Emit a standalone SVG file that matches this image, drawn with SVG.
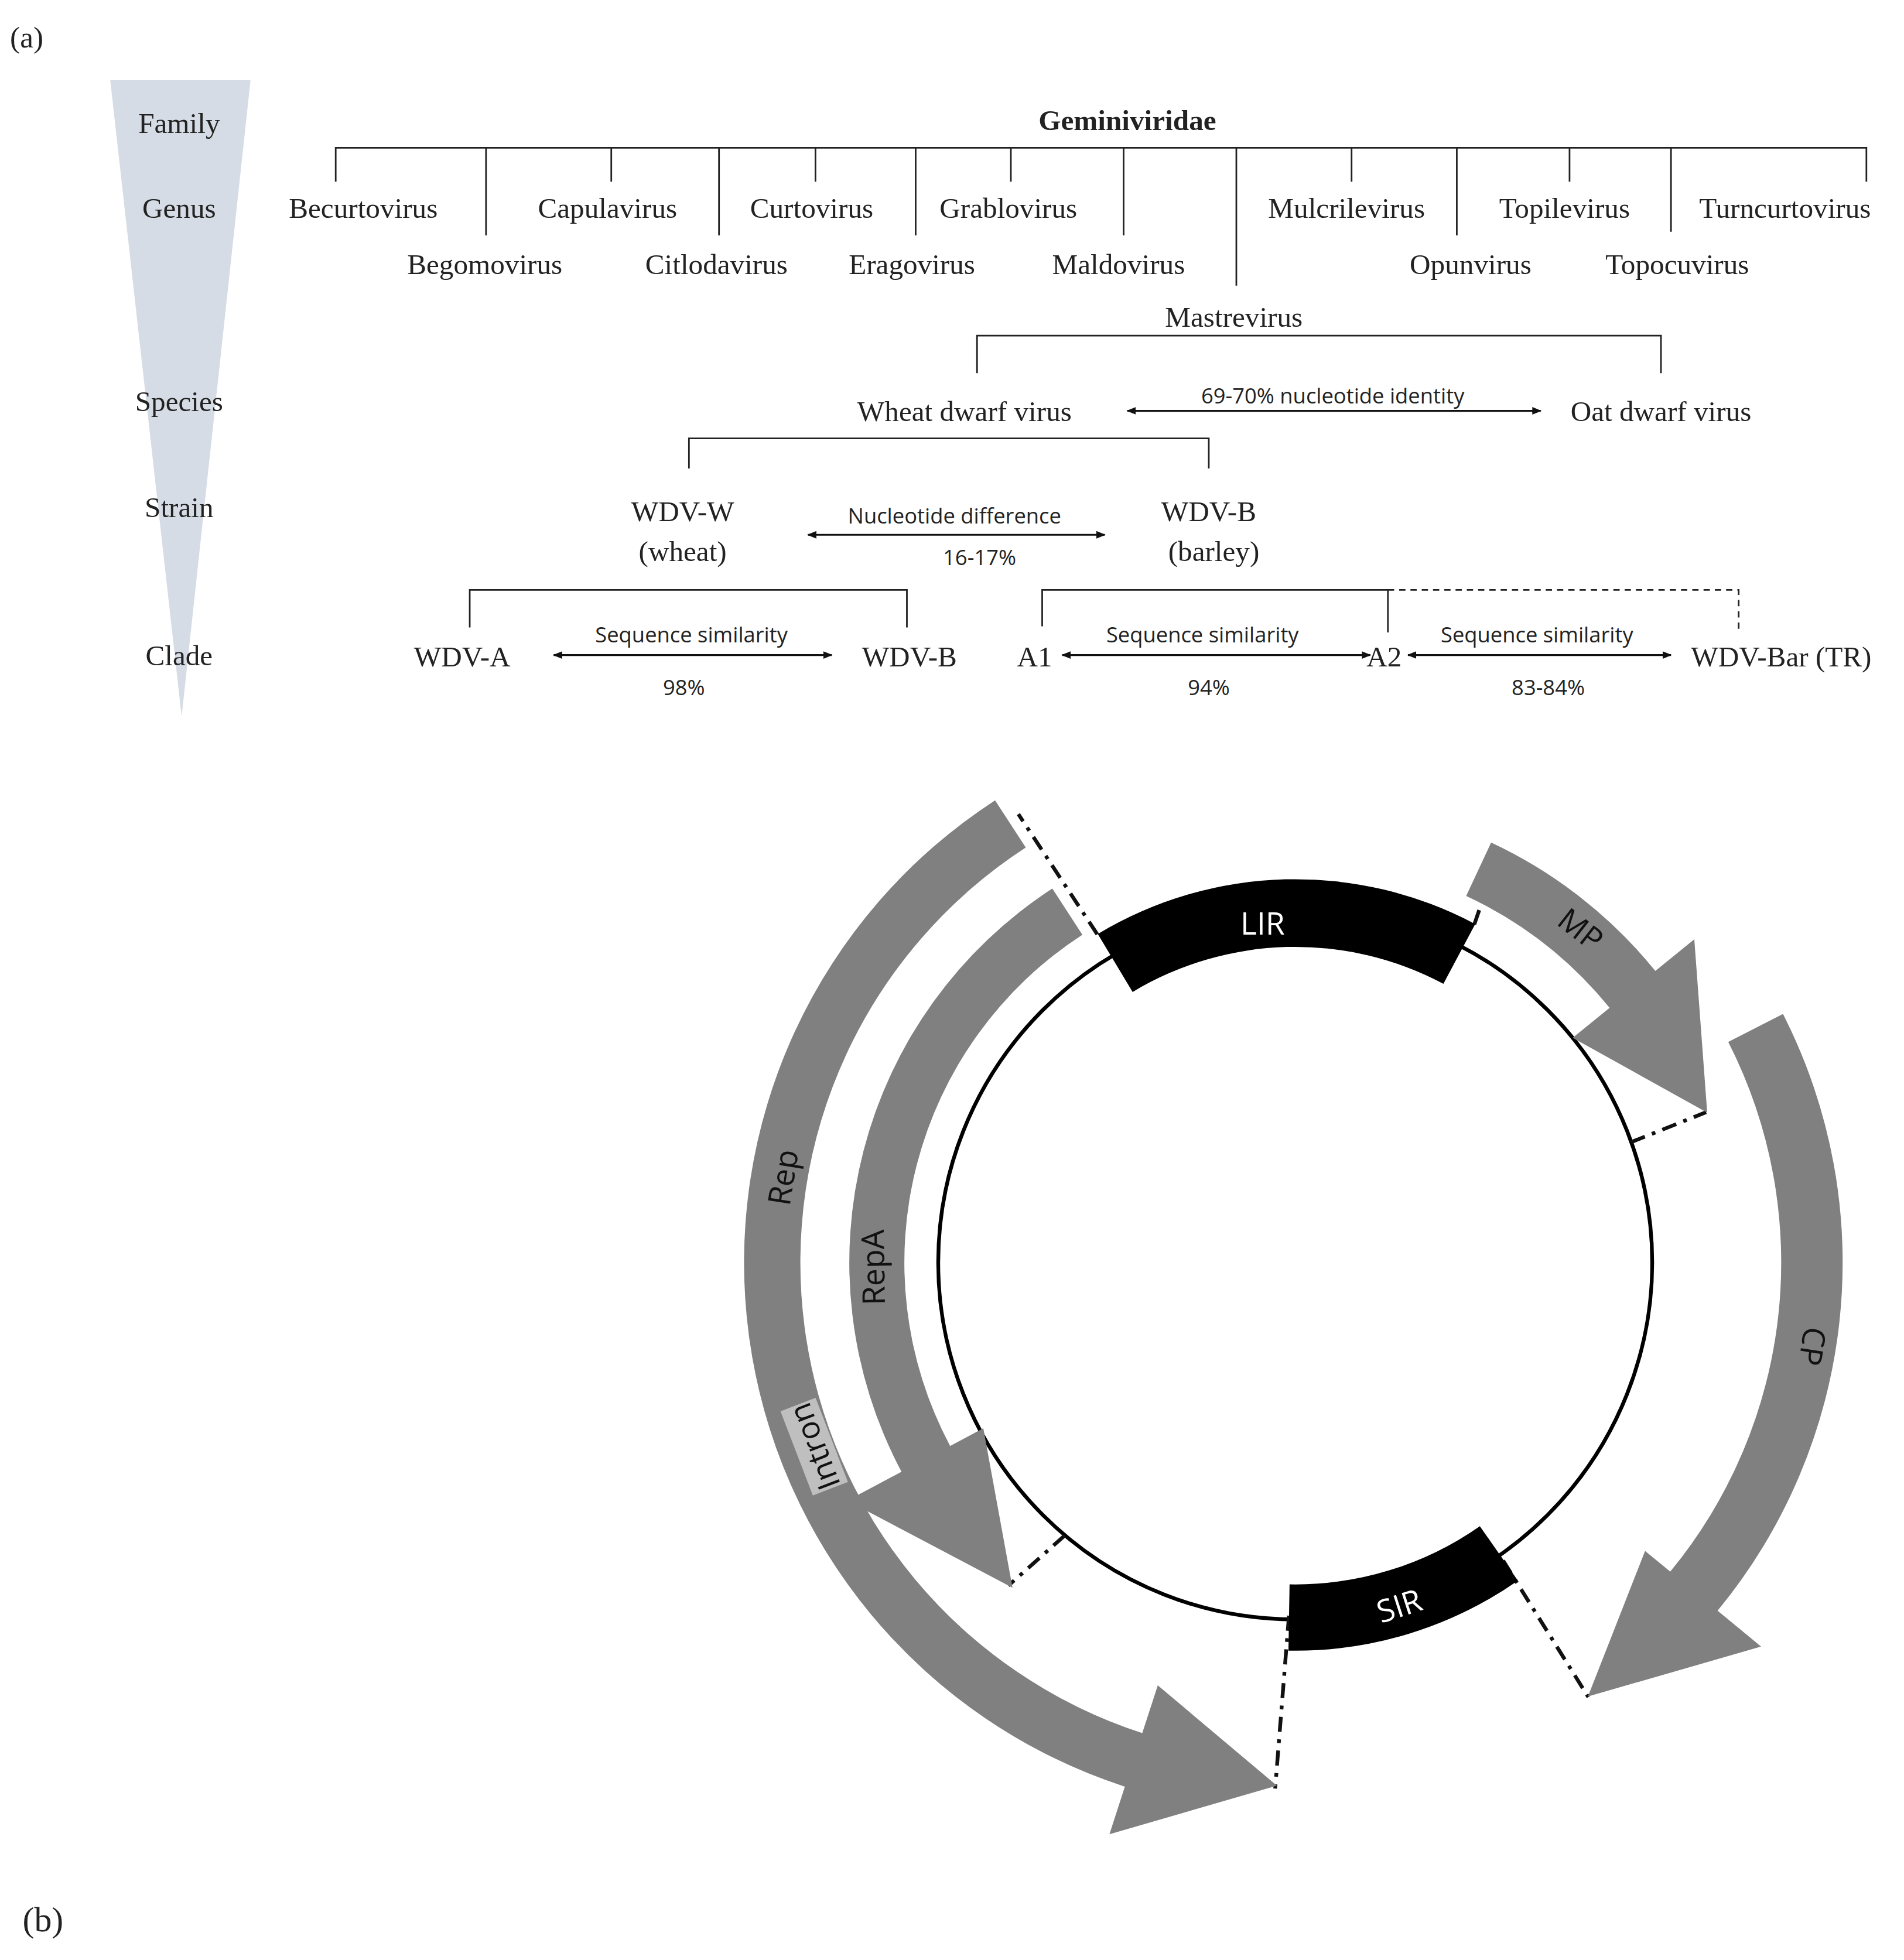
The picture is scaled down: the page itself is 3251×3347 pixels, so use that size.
<svg xmlns="http://www.w3.org/2000/svg" width="3251" height="3347" viewBox="0 0 3251 3347">
<style>
.s{font-family:"Liberation Serif",serif;font-size:23px;fill:#222;text-anchor:middle}
.n{font-family:"Open Sans","Liberation Sans",sans-serif;font-size:17px;fill:#222;text-anchor:middle}
.g{font-family:"Open Sans","Liberation Sans",sans-serif;font-size:25px;fill:#111;text-anchor:middle}
.ln{stroke:#222;stroke-width:1.3;fill:none}
.ar{stroke:#111;stroke-width:1.5;fill:none;marker-start:url(#ah);marker-end:url(#ah)}
.gene{fill:#808080}
.dd{stroke:#111;stroke-width:3;fill:none;stroke-dasharray:12 6 3 6}
</style>
<defs>
<marker id="ah" viewBox="0 0 10 10" refX="9" refY="5" markerWidth="5" markerHeight="5" orient="auto-start-reverse"><path d="M0,1 L10,5 L0,9 Z" fill="#111"/></marker>
</defs>
<rect width="3251" height="3347" fill="#fff"/>
<g transform="scale(2.1388)">
<g id="panel-a">
<text x="8" y="38" class="s" style="text-anchor:start;font-size:24px">(a)</text>
<polygon points="88,64 200,64 145,572" fill="#d6dce5"/>
<text x="143" y="106" class="s">Family</text>
<text x="143" y="174" class="s">Genus</text>
<text x="143" y="328" class="s">Species</text>
<text x="143" y="413" class="s">Strain</text>
<text x="143" y="531" class="s">Clade</text>
</g>
<g id="connectors">
<path class="ln" d="M268,145V118H1490V145 M388,118V188 M488,118V145 M574,118V188 M651,118V145 M731,118V188 M807,118V145 M897,118V188 M987,118V228 M1079,118V145 M1163,118V188 M1253,118V145 M1334,118V185"/>
<path class="ln" d="M780,298V268H1326V298"/>
<path class="ln" d="M550,374V350H965V374"/>
<path class="ln" d="M375,501V471H724V501"/>
<path class="ln" d="M832,500V471H1108V505"/>
<path class="ln" d="M1108,471H1388V503" stroke-dasharray="5 4"/>
<path class="ar" d="M900,328H1230"/>
<path class="ar" d="M645,427H882"/>
<path class="ar" d="M442,523H664"/>
<path class="ar" d="M848,523H1094"/>
<path class="ar" d="M1124,523H1334"/>
</g>
<g id="family"><text x="900" y="104" class="s" style="font-weight:bold">Geminiviridae</text></g>
<g id="genera">
<text x="290" y="174" class="s">Becurtovirus</text>
<text x="485" y="174" class="s">Capulavirus</text>
<text x="648" y="174" class="s">Curtovirus</text>
<text x="805" y="174" class="s">Grablovirus</text>
<text x="1075" y="174" class="s">Mulcrilevirus</text>
<text x="1249" y="174" class="s">Topilevirus</text>
<text x="1425" y="174" class="s">Turncurtovirus</text>
<text x="387" y="219" class="s">Begomovirus</text>
<text x="572" y="219" class="s">Citlodavirus</text>
<text x="728" y="219" class="s">Eragovirus</text>
<text x="893" y="219" class="s">Maldovirus</text>
<text x="1174" y="219" class="s">Opunvirus</text>
<text x="1339" y="219" class="s">Topocuvirus</text>
<text x="985" y="261" class="s">Mastrevirus</text>
</g>
<g id="species">
<text x="770" y="336" class="s">Wheat dwarf virus</text>
<text x="1326" y="336" class="s">Oat dwarf virus</text>
<text x="1064" y="322" class="n">69-70% nucleotide identity</text>
</g>
<g id="strains">
<text x="545" y="416" class="s">WDV-W</text>
<text x="545" y="448" class="s">(wheat)</text>
<text x="965" y="416" class="s">WDV-B</text>
<text x="969" y="448" class="s">(barley)</text>
<text x="762" y="418" class="n">Nucleotide difference</text>
<text x="782" y="451" class="n">16-17%</text>
</g>
<g id="clades">
<text x="369" y="532" class="s">WDV-A</text>
<text x="726" y="532" class="s">WDV-B</text>
<text x="826" y="532" class="s">A1</text>
<text x="1105" y="532" class="s">A2</text>
<text x="1422" y="532" class="s">WDV-Bar (TR)</text>
<text x="552" y="513" class="n">Sequence similarity</text>
<text x="960" y="513" class="n">Sequence similarity</text>
<text x="1227" y="513" class="n">Sequence similarity</text>
<text x="546" y="555" class="n">98%</text>
<text x="965" y="555" class="n">94%</text>
<text x="1236" y="555" class="n">83-84%</text>
</g>
<g id="panel-b">
<text x="18" y="1542" class="s" style="text-anchor:start;font-size:28px">(b)</text>
<circle cx="1034" cy="1008" r="285" fill="none" stroke="#000" stroke-width="3"/>
</g>
<g id="dashes">
<path class="dd" d="M876,746L813,650 M1177,738L1190,700 M1302,912L1362,888 M850,1226L805,1266 M1029,1290L1018,1428 M1200,1246L1268,1355"/>
</g>
<g id="rep"><path class="gene" d="M794.4,639 A440,440 0 0 0 898,1426.5 L885.7,1464.5 L1019.4,1425.7 L924.3,1345.6 L911.9,1383.7 A395,395 0 0 1 818.9,676.7 Z"/>
<rect x="-24" y="-15" width="72" height="30" fill="#bfbfbf" transform="translate(650,1155) rotate(-111) translate(-12,0)"/>
<text class="g" transform="translate(650,1155) rotate(-111)" y="9">Intron</text>
<text class="g" transform="translate(625,940) rotate(-81)" y="9">Rep</text>
</g>
<g id="repA"><path class="gene" d="M840.1,709.4 A356,356 0 0 0 719.7,1175.1 L676.4,1198.1 L808.3,1267.6 L785,1140.4 L758.5,1154.5 A312,312 0 0 1 864.1,746.3 Z"/>
<text class="g" transform="translate(697,1012) rotate(-91)" y="9">RepA</text>
</g>
<g id="mp"><path class="gene" d="M1190.4,672.7 A370,370 0 0 1 1321.5,775.2 L1352.6,750 L1362.9,888.3 L1255.5,828.6 L1285,804.7 A323,323 0 0 0 1170.5,715.3 Z"/>
<text class="g" transform="translate(1262,742) rotate(38)" y="9">MP</text>
</g>
<g id="cp"><path class="gene" d="M1423.4,809.6 A437,437 0 0 1 1371.2,1286 L1405.9,1314.6 L1267.7,1354.5 L1313.3,1238.3 L1333.4,1254.8 A388,388 0 0 0 1379.7,831.9 Z"/>
<text class="g" transform="translate(1447,1075) rotate(99)" y="9">CP</text>
</g>
<g id="lir"><path d="M876.4,745.7 A306,306 0 0 1 1177.7,737.8 L1152.3,785.5 A252,252 0 0 0 904.2,792 Z" fill="#000"/>
<text class="g" x="1008" y="746" style="fill:#fff">LIR</text></g>
<g id="sir"><path d="M1211.8,1262 A310,310 0 0 1 1028.6,1317.9 L1029.5,1265 A257,257 0 0 0 1181.4,1218.5 Z" fill="#000"/>
<text class="g" transform="translate(1117,1282) rotate(-18)" y="9" style="fill:#fff">SIR</text></g>
</g>
</svg>
